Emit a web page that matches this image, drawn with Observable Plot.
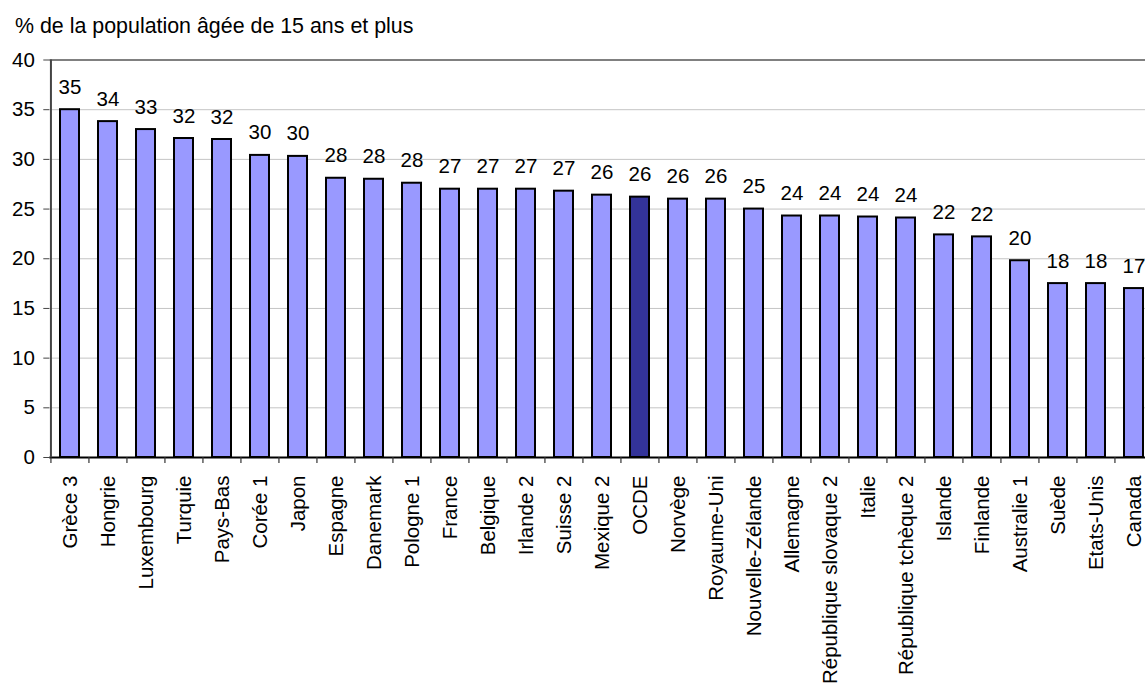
<!DOCTYPE html>
<html>
<head>
<meta charset="utf-8">
<script src="https://cdn.jsdelivr.net/npm/d3@7"></script>
<script src="https://cdn.jsdelivr.net/npm/@observablehq/plot@0.6"></script>
<style>
  html, body { margin: 0; padding: 0; background: #fff; overflow: hidden; }
  body { width: 1145px; height: 688px; font-family: "Liberation Sans", Arial, sans-serif; }
  #title { font-size: 21.4px; line-height: 20px; height: 32px; padding: 16px 0 0 15px; color: #000; }
  #chart svg { display: block; overflow: hidden; }
</style>
</head>
<body>
<div id="title">% de la population âgée de 15 ans et plus</div>
<div id="chart"></div>
<script>
const categories = ["Grèce 3", "Hongrie", "Luxembourg", "Turquie", "Pays-Bas", "Corée 1", "Japon", "Espagne", "Danemark", "Pologne 1", "France", "Belgique", "Irlande 2", "Suisse 2", "Mexique 2", "OCDE", "Norvège", "Royaume-Uni", "Nouvelle-Zélande", "Allemagne", "République slovaque 2", "Italie", "République tchèque 2", "Islande", "Finlande", "Australie 1", "Suède", "Etats-Unis", "Canada"];
const values = [35.0, 33.8, 33.0, 32.1, 32.0, 30.4, 30.3, 28.1, 28.0, 27.6, 27.0, 27.0, 27.0, 26.8, 26.4, 26.2, 26.0, 26.0, 25.0, 24.3, 24.3, 24.2, 24.1, 22.4, 22.2, 19.8, 17.5, 17.5, 17.0];
const yTicks = [0, 5, 10, 15, 20, 25, 30, 35, 40];
const gridValues = [5, 10, 15, 20, 25, 30, 35];
const highlight = "OCDE";

const data = categories.map((c, i) => ({pays: c, valeur: values[i]}));

const W = 1145, H = 640;
const xRange = [49.3, 1155];
const step = (xRange[1] - xRange[0]) / categories.length;
const half = -step / 2;
const fs = 20.5;

const chart = Plot.plot({
  width: W,
  height: H,
  marginLeft: 49.3,
  marginRight: 0,
  marginTop: 11.5,
  marginBottom: 231,
  style: {fontFamily: "Liberation Sans, Arial, sans-serif", color: "#000", background: "#fff"},
  x: {domain: categories, range: xRange, paddingInner: 0.49, paddingOuter: 0.245, label: null},
  y: {domain: [0, 40], label: null},
  color: {type: "identity"},
  marks: [
    Plot.ruleY(gridValues, {stroke: "#c4c4c4", strokeWidth: 1}),
    Plot.ruleY([40], {stroke: "#808080", strokeWidth: 2}),
    Plot.barY(data, {
      x: "pays", y: "valeur",
      fill: d => d.pays === highlight ? "#333399" : "#9999ff",
      stroke: "#000", strokeWidth: 2
    }),
    Plot.text(data, {
      x: "pays", y: "valeur",
      text: d => String(Math.round(d.valeur)),
      lineAnchor: "bottom", dy: -16,
      fontSize: fs, fill: "#000"
    }),
    Plot.ruleY([0], {stroke: "#000", strokeWidth: 2}),
    Plot.ruleX(categories, {x: d => d, dx: half, y1: 0, y2: -0.6, stroke: "#333", strokeWidth: 1.2}),
    Plot.ruleX([categories[0]], {x: d => d, dx: half, y1: 0, y2: 40, stroke: "#444", strokeWidth: 2}),
    Plot.axisY({ticks: yTicks, tickSize: 6, tickPadding: 9, fontSize: fs, label: null, stroke: "#444"}),
    Plot.axisX({tickSize: 0, tickRotate: -90, tickPadding: 18, fontSize: fs, label: null})
  ]
});
document.getElementById("chart").appendChild(chart);
</script>
</body>
</html>
